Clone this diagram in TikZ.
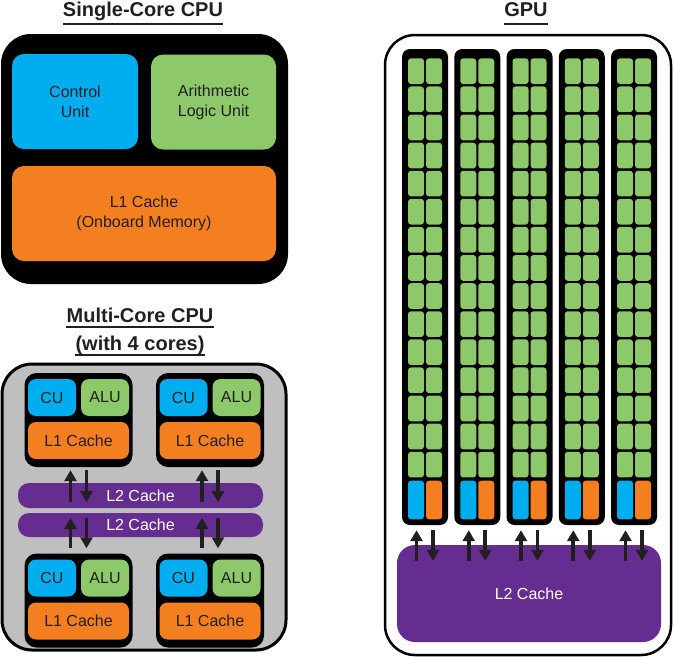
\documentclass[tikz,border=0pt]{standalone}
\usepackage{fontspec}
\setmainfont{Liberation Sans}
\usepackage{xcolor}
\usepackage{tikz}
\usetikzlibrary{positioning, arrows.meta, calc}
\definecolor{cpublue}{HTML}{00AEEF}
\definecolor{cpugreen}{HTML}{8DC86B}
\definecolor{cpuorange}{HTML}{F47F21}
\definecolor{cpupurple}{HTML}{662D91}
\definecolor{cpugray}{HTML}{BFBFBF}
\definecolor{ink}{HTML}{231F20}

\begin{document}
\begin{tikzpicture}[
  x=1pt, y=-1pt,
  bloc/.style={fill=#1, rounded corners=12pt, inner sep=0pt, text=ink, align=center,
    font=\fontsize{16}{20}\selectfont},
  cadre/.style={rounded corners=30pt, inner sep=0pt},
  coeur/.style={fill=black, rounded corners=12pt, inner sep=0pt, minimum width=108, minimum height=94},
  cell/.style={fill=#1, rounded corners=3pt, inner sep=0pt, minimum width=16, minimum height=25.7},
  titre/.style={font=\fontsize{20}{24}\selectfont\bfseries, text=ink, anchor=base, inner sep=0pt},
  souligne/.style={ink, line width=2pt},
  flux/.style={ink, line width=3.6pt, -{Triangle[length=11pt,width=12pt]}},
]
\useasboundingbox (0,0) rectangle (674,657);

% Titres
\node[titre] (tsingle) at (143,16) {Single-Core CPU};
\draw[souligne] ($(tsingle.base west)+(0,8)$) -- ($(tsingle.base east)+(0,8)$);
\node[titre] (tmulti) at (140,322) {Multi-Core CPU};
\draw[souligne] ($(tmulti.base west)+(0,5)$) -- ($(tmulti.base east)+(0,5)$);
\node[titre] (tcores) at (140,350) {(with 4 cores)};
\draw[souligne] ($(tcores.base west)+(0,5)$) -- ($(tcores.base east)+(0,5)$);
\node[titre] (tgpu) at (526,16) {GPU};
\draw[souligne] ($(tgpu.base west)+(0,8)$) -- ($(tgpu.base east)+(0,8)$);

% CPU simple coeur
\node[cadre, fill=black, minimum width=287, minimum height=250] (single) at (144.5,159) {};
\node[bloc=cpublue, minimum width=126, minimum height=95] (cu) at (75,101.5) {Control\\Unit};
\node[bloc=cpugreen, minimum width=125, minimum height=95] (alu) at (213.5,102) {Arithmetic\\Logic Unit};
\node[bloc=cpuorange, minimum width=264, minimum height=95] (lone) at (144,213.5) {L1 Cache\\(Onboard Memory)};

% CPU multi coeurs
\node[cadre, fill=cpugray, draw=black, line width=3pt, minimum width=284, minimum height=286] (multi) at (144,507) {};
\foreach \n/\cx/\cy in {1/78.5/420, 2/210/420, 3/78.5/600.5, 4/210/600.5} {
  \node[coeur] (core\n) at (\cx,\cy) {};
  \node[bloc=cpublue, rounded corners=8pt, minimum width=48, minimum height=37] (cu\n) at ($(core\n)+(-26.5,-22.5)$) {CU};
  \node[bloc=cpugreen, rounded corners=8pt, minimum width=48, minimum height=37] (alu\n) at ($(core\n)+(26.5,-22.5)$) {ALU};
  \node[bloc=cpuorange, rounded corners=8pt, minimum width=101, minimum height=37] (lone\n) at ($(core\n)+(0,20.5)$) {L1 Cache};
}
\node[bloc=cpupurple, rounded corners=11pt, text=white, minimum width=245, minimum height=25] (ltwoa) at (140.5,495.5) {L2 Cache};
\node[bloc=cpupurple, rounded corners=11pt, text=white, minimum width=245, minimum height=24] (ltwob) at (140.5,525) {L2 Cache};
\foreach \n in {1,2} {
  \draw[flux] ($(ltwoa.south -| core\n.south)+(-8,-6)$) -- ($(core\n.south)+(-8,3)$);
  \draw[flux] ($(core\n.south)+(8,3)$) -- ($(ltwoa.south -| core\n.south)+(8,-6)$);
}
\foreach \n in {3,4} {
  \draw[flux] ($(core\n.north)+(-8,-5)$) -- ($(ltwob.north -| core\n.north)+(-8,5)$);
  \draw[flux] ($(ltwob.north -| core\n.north)+(8,5)$) -- ($(core\n.north)+(8,-5)$);
}

% GPU
\node[cadre, fill=white, draw=black, line width=2.5pt, minimum width=286, minimum height=620] (gpu) at (528,345) {};
\node[bloc=cpupurple, rounded corners=18pt, text=white, minimum width=264, minimum height=97] (ltwoc) at (529,593.5) {L2 Cache};
\foreach \c in {1,...,5} {
  \pgfmathsetmacro\gx{425+52.25*(\c-1)}
  \node[fill=black, rounded corners=8pt, inner sep=0pt, minimum width=46, minimum height=476] (col\c) at (\gx,287) {};
  \foreach \r in {0,...,14} {
    \node[cell=cpugreen] (g\c-\r-a) at (\gx-9, 71.2+28.1*\r) {};
    \node[cell=cpugreen] (g\c-\r-b) at (\gx+9, 71.2+28.1*\r) {};
  }
  \node[cell=cpublue, minimum height=38.6] (cub\c) at (\gx-9,500) {};
  \node[cell=cpuorange, minimum height=38.6] (l1b\c) at (\gx+9,500) {};
  \draw[flux] ($(ltwoc.north -| col\c.south)+(-8.5,16)$) -- ($(col\c.south)+(-8.5,5)$);
  \draw[flux] ($(col\c.south)+(8,5)$) -- ($(ltwoc.north -| col\c.south)+(8,16)$);
}

\end{tikzpicture}
\end{document}
